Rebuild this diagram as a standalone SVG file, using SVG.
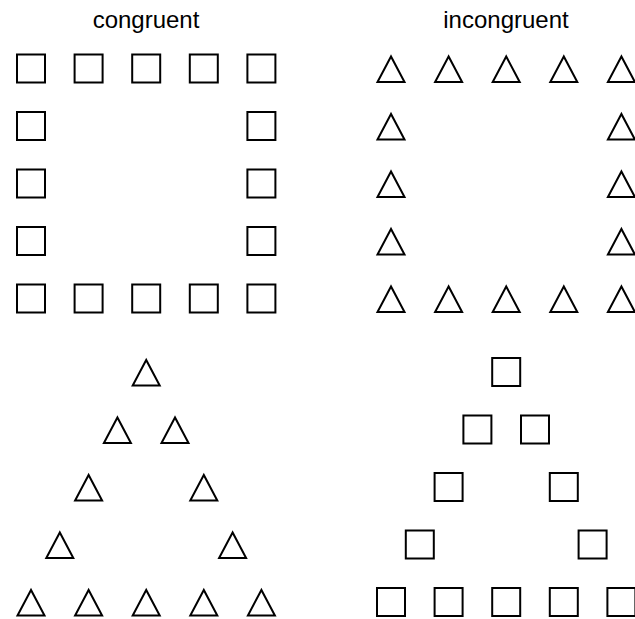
<svg xmlns="http://www.w3.org/2000/svg" xmlns:xlink="http://www.w3.org/1999/xlink" width="635" height="619" viewBox="0 0 635 619">
<style>
.shape{fill:none;stroke:#000;stroke-width:2}
.title{font-family:"Liberation Sans",Arial,sans-serif;font-size:24px;fill:#000;text-anchor:middle}
</style>
<defs>
<symbol id="sq" overflow="visible"><rect class="shape" x="1" y="1" width="28" height="28"/></symbol>
<symbol id="tri" overflow="visible"><polygon class="shape" points="15,3 1.5,28.5 28.5,28.5" stroke-linejoin="miter"/></symbol>
</defs>
<rect width="635" height="619" fill="#fff"/>
<g id="labels">
<text class="title" x="146" y="28">congruent</text>
<text class="title" x="506" y="28">incongruent</text>
</g>
<g id="congruent-square-of-squares">
<use href="#sq" x="16" y="53.5"/><use href="#sq" x="73.6" y="53.5"/><use href="#sq" x="131.2" y="53.5"/><use href="#sq" x="188.8" y="53.5"/><use href="#sq" x="246.4" y="53.5"/>
<use href="#sq" x="16" y="111"/><use href="#sq" x="246.4" y="111"/>
<use href="#sq" x="16" y="168.5"/><use href="#sq" x="246.4" y="168.5"/>
<use href="#sq" x="16" y="226"/><use href="#sq" x="246.4" y="226"/>
<use href="#sq" x="16" y="283.5"/><use href="#sq" x="73.6" y="283.5"/><use href="#sq" x="131.2" y="283.5"/><use href="#sq" x="188.8" y="283.5"/><use href="#sq" x="246.4" y="283.5"/>
</g>
<g id="incongruent-square-of-triangles">
<use href="#tri" x="376" y="53.5"/><use href="#tri" x="433.6" y="53.5"/><use href="#tri" x="491.2" y="53.5"/><use href="#tri" x="548.8" y="53.5"/><use href="#tri" x="606.4" y="53.5"/>
<use href="#tri" x="376" y="111"/><use href="#tri" x="606.4" y="111"/>
<use href="#tri" x="376" y="168.5"/><use href="#tri" x="606.4" y="168.5"/>
<use href="#tri" x="376" y="226"/><use href="#tri" x="606.4" y="226"/>
<use href="#tri" x="376" y="283.5"/><use href="#tri" x="433.6" y="283.5"/><use href="#tri" x="491.2" y="283.5"/><use href="#tri" x="548.8" y="283.5"/><use href="#tri" x="606.4" y="283.5"/>
</g>
<g id="congruent-triangle-of-triangles">
<use href="#tri" x="131.2" y="357"/>
<use href="#tri" x="102.4" y="414.5"/><use href="#tri" x="160" y="414.5"/>
<use href="#tri" x="73.6" y="472"/><use href="#tri" x="188.8" y="472"/>
<use href="#tri" x="44.8" y="529.5"/><use href="#tri" x="217.6" y="529.5"/>
<use href="#tri" x="16" y="587"/><use href="#tri" x="73.6" y="587"/><use href="#tri" x="131.2" y="587"/><use href="#tri" x="188.8" y="587"/><use href="#tri" x="246.4" y="587"/>
</g>
<g id="incongruent-triangle-of-squares">
<use href="#sq" x="491.2" y="357"/>
<use href="#sq" x="462.4" y="414.5"/><use href="#sq" x="520" y="414.5"/>
<use href="#sq" x="433.6" y="472"/><use href="#sq" x="548.8" y="472"/>
<use href="#sq" x="404.8" y="529.5"/><use href="#sq" x="577.6" y="529.5"/>
<use href="#sq" x="376" y="587"/><use href="#sq" x="433.6" y="587"/><use href="#sq" x="491.2" y="587"/><use href="#sq" x="548.8" y="587"/><use href="#sq" x="606.4" y="587"/>
</g>
<g id="connectors"></g>
</svg>
